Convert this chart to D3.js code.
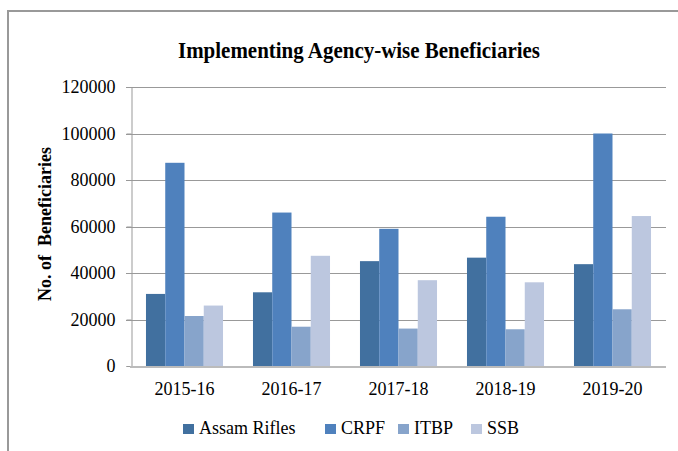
<!DOCTYPE html>
<html>
<head>
<meta charset="utf-8">
<script src="https://cdn.jsdelivr.net/npm/d3@7"></script>
<style>
body { margin: 0; background: #fff; }
text { font-family: "Liberation Serif", "Times New Roman", serif; fill: #000; }
</style>
</head>
<body>
<svg id="chart" width="678" height="451"></svg>
<script>
var years = ['2015-16', '2016-17', '2017-18', '2018-19', '2019-20'];
var agencies = ['Assam Rifles', 'CRPF', 'ITBP', 'SSB'];
var colours = ['#41709f', '#4f81bd', '#87a4cb', '#bcc7df'];

var assamRifles = [31000, 31700, 45100, 46600, 43800];
var crpf = [87400, 66000, 59000, 64200, 100000];
var itbp = [21500, 16900, 16100, 15800, 24400];
var ssb = [26000, 47400, 36900, 36000, 64500];

var yTicks = [0, 20000, 40000, 60000, 80000, 100000, 120000];

var series = [assamRifles, crpf, itbp, ssb];

var svg = d3.select('svg#chart');

// frame (only top and left edges show)
svg.append('path')
	.attr('d', 'M8,451V11H678')
	.attr('fill', 'none')
	.attr('stroke', '#999')
	.attr('stroke-width', 2);

var plotLeft = 131, plotRight = 666, plotTop = 87, plotBottom = 366;

var x = d3.scaleBand().domain(years).range([plotLeft, plotRight]).paddingInner(0.28).paddingOuter(0.14);
var x1 = d3.scaleBand().domain(d3.range(agencies.length)).range([0, x.bandwidth()]);
var y = d3.scaleLinear().domain([0, 120000]).range([plotBottom, plotTop]);

// grid
svg.append('g').selectAll('line').data(yTicks.slice(1)).enter()
	.append('line')
	.attr('x1', plotLeft - 5).attr('x2', plotRight)
	.attr('y1', function(d) { return Math.round(y(d)) + 0.5; })
	.attr('y2', function(d) { return Math.round(y(d)) + 0.5; })
	.attr('stroke', '#999');

// y axis
var yAxis = svg.append('g')
	.attr('transform', 'translate(' + (plotLeft + 0.5) + ',0)')
	.call(d3.axisLeft(y).tickValues(yTicks).tickSize(5).tickPadding(11).tickFormat(d3.format('d')));
yAxis.select('.domain').attr('stroke', '#999');
yAxis.selectAll('.tick line').attr('stroke', '#999');
yAxis.selectAll('.tick text').attr('font-size', 18).attr('font-family', '"Liberation Serif", serif').attr('fill', '#000');

// bars
var groups = svg.append('g').selectAll('g').data(years).enter()
	.append('g')
	.attr('transform', function(d) { return 'translate(' + x(d) + ',0)'; });

groups.selectAll('rect')
	.data(function(d, i) { return series.map(function(s, k) { return { k: k, v: s[i] }; }); })
	.enter()
	.append('rect')
	.attr('x', function(d) { return x1(d.k); })
	.attr('width', x1.bandwidth())
	.attr('y', function(d) { return y(d.v); })
	.attr('height', function(d) { return plotBottom - y(d.v); })
	.attr('fill', function(d) { return colours[d.k]; });

// x axis line
svg.append('line')
	.attr('x1', plotLeft - 1).attr('x2', plotRight)
	.attr('y1', plotBottom + 1).attr('y2', plotBottom + 1)
	.attr('stroke', '#bbb').attr('stroke-width', 2);

svg.append('g').selectAll('text').data(years).enter()
	.append('text')
	.attr('x', function(d) { return x(d) + x.bandwidth() / 2; })
	.attr('y', 395)
	.attr('text-anchor', 'middle')
	.attr('font-size', 18)
	.text(function(d) { return d; });

// title
svg.append('text')
	.attr('x', 359).attr('y', 58)
	.attr('text-anchor', 'middle')
	.attr('font-size', 24)
	.attr('font-weight', 'bold')
	.attr('textLength', 362)
	.attr('lengthAdjust', 'spacingAndGlyphs')
	.text('Implementing Agency-wise Beneficiaries');

// y title
svg.append('text')
	.attr('transform', 'translate(51,224) rotate(-90)')
	.attr('text-anchor', 'middle')
	.attr('font-size', 18)
	.attr('font-weight', 'bold')
	.attr('xml:space', 'preserve')
	.text('No. of  Beneficiaries');

// legend
var legendX = [183, 325, 398, 471];
var legend = svg.append('g').selectAll('g').data(agencies).enter()
	.append('g')
	.attr('transform', function(d, i) { return 'translate(' + legendX[i] + ',424)'; });
legend.append('rect').attr('width', 11).attr('height', 10)
	.attr('fill', function(d, i) { return colours[i]; });
legend.append('text').attr('x', 16).attr('y', 10).attr('font-size', 18)
	.text(function(d) { return d; });
</script>
</body>
</html>
